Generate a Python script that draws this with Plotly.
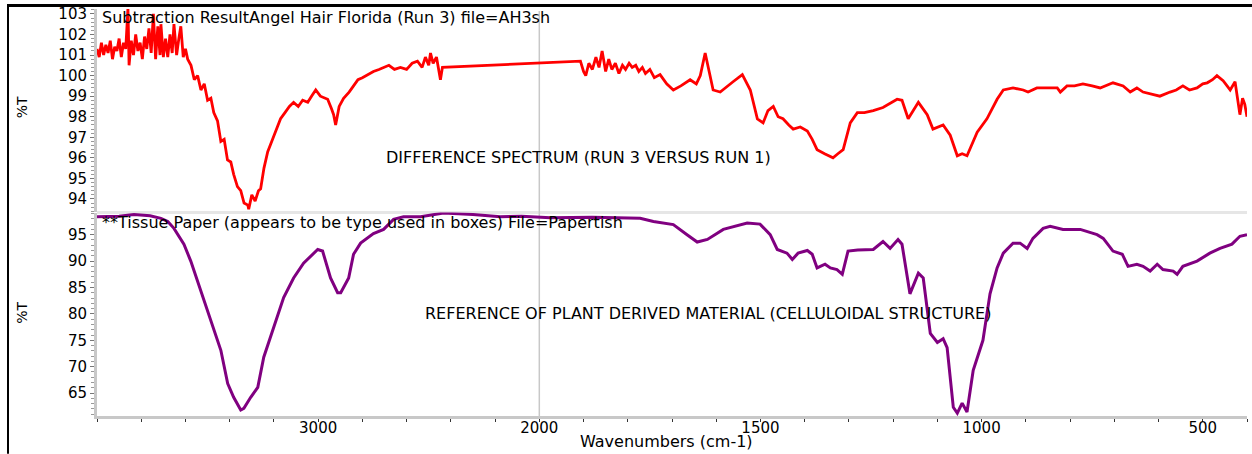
import plotly.graph_objects as go

# ---------------- data (wavenumbers in cm-1, %T) ----------------
red_wn = [4000, 3990, 3980, 3970, 3960, 3950, 3940, 3930, 3920, 3910, 3900, 3890,
          3880, 3870, 3860, 3855, 3845, 3835, 3825, 3815, 3805, 3795, 3785, 3775,
          3765, 3755, 3745, 3735, 3725, 3715, 3711, 3700, 3690, 3680, 3670, 3660,
          3652, 3640, 3630, 3621, 3610, 3600, 3590, 3575, 3560, 3545, 3530, 3515,
          3500, 3485, 3472, 3455, 3440, 3425, 3410, 3395, 3382, 3365, 3350, 3335,
          3318, 3314, 3300, 3285, 3270, 3260, 3245, 3228, 3210, 3190, 3170, 3150,
          3130, 3111, 3090, 3070, 3047, 3030, 3011, 2990, 2970, 2957, 2940, 2930,
          2921, 2905, 2885, 2860, 2840, 2820, 2800, 2777, 2750, 2725, 2704, 2680,
          2655, 2628, 2600, 2575, 2551, 2530, 2515, 2500, 2492, 2480, 2465, 2455,
          2447, 2438, 1907, 1900, 1895, 1888, 1880, 1872, 1865, 1858, 1850, 1843,
          1836, 1828, 1820, 1812, 1805, 1797, 1790, 1782, 1775, 1767, 1760, 1750,
          1740, 1727, 1712, 1697, 1680, 1659, 1645, 1636, 1625, 1616, 1607, 1591,
          1575, 1562, 1541, 1530, 1523, 1507, 1494, 1483, 1471, 1460, 1449, 1436,
          1426, 1410, 1394, 1383, 1372, 1355, 1336, 1325, 1313, 1297, 1281, 1265,
          1245, 1223, 1191, 1180, 1166, 1143, 1123, 1110, 1087, 1071, 1055, 1044,
          1033, 1010, 988, 965, 951, 929, 906, 895, 875, 850, 829, 822, 807, 790,
          771, 750, 732, 703, 680, 664, 649, 635, 619, 597, 574, 560, 545, 530,
          513, 500, 490, 478, 468, 454, 445, 438, 427, 420, 416, 410, 405, 400]
red_t = [101.3, 100.9, 101.6, 101.0, 101.5, 101.1, 101.7, 100.8, 101.4, 101.2, 101.8, 100.9,
         101.6, 101.3, 103.3, 100.5, 101.7, 101.0, 102.0, 101.2, 101.6, 100.8, 101.9, 101.3,
         102.3, 101.1, 103.0, 100.8, 102.4, 101.0, 102.5, 100.9, 101.8, 100.9, 102.0, 101.1,
         102.5, 101.0, 101.8, 102.4, 100.9, 101.3, 100.8, 100.5, 99.8, 100.0, 99.3, 99.6,
         98.8, 98.9, 98.2, 97.8, 96.8, 96.9, 95.9, 95.8, 95.2, 94.6, 94.4, 93.8,
         93.7, 93.5, 94.2, 93.9, 94.4, 94.5, 95.5, 96.3, 96.8, 97.4, 97.9, 98.2,
         98.5, 98.7, 98.5, 98.8, 98.7, 99.0, 99.3, 99.0, 98.9, 98.85, 98.4, 98.1,
         97.6, 98.5, 98.9, 99.2, 99.5, 99.8, 99.9, 100.05, 100.2, 100.3, 100.4, 100.5,
         100.3, 100.4, 100.3, 100.6, 100.7, 100.4, 100.9, 100.5, 101.1, 100.6, 100.9, 100.3,
         99.8, 100.4, 100.7, 100.2, 100.0, 100.6, 100.3, 100.9, 100.4, 101.2, 100.2, 100.8,
         100.3, 100.6, 100.1, 100.5, 100.3, 100.6, 100.4, 100.5, 100.2, 100.4, 100.1, 100.3,
         99.9, 100.05, 99.6, 99.3, 99.5, 99.8, 99.6, 100.0, 101.1, 100.2, 99.3, 99.2,
         99.5, 99.7, 100.05, 99.6, 99.3, 97.9, 97.7, 98.3, 98.5, 98.0, 97.9, 97.6,
         97.4, 97.5, 97.3, 96.9, 96.4, 96.2, 96.0, 96.2, 96.4, 97.7, 98.2, 98.2,
         98.3, 98.45, 98.85, 98.8, 97.9, 98.7, 98.1, 97.4, 97.6, 97.1, 96.1, 96.2,
         96.1, 97.25, 97.9, 98.85, 99.3, 99.4, 99.3, 99.2, 99.4, 99.4, 99.4, 99.2, 99.5, 99.5,
         99.6, 99.5, 99.4, 99.65, 99.5, 99.2, 99.4, 99.2, 99.1, 99.0, 99.2, 99.3, 99.5, 99.3,
         99.4, 99.6, 99.65, 99.8, 100.0, 99.75, 99.5, 99.3, 99.7, 98.7, 98.1, 98.9, 98.6, 98.0]

pur_wn = [4000, 3900, 3833, 3760, 3711, 3680, 3652, 3607, 3576, 3531, 3485, 3440,
          3409, 3382, 3350, 3336, 3305, 3273, 3246, 3201, 3156, 3111, 3066, 3002,
          2980, 2944, 2912, 2898, 2862, 2840, 2808, 2750, 2704, 2659, 2614, 2537,
          2433, 2300, 2176, 2080, 1975, 1880, 1772, 1742, 1697, 1666, 1643, 1620,
          1584, 1530, 1501, 1478, 1462, 1440, 1428, 1415, 1394, 1383, 1372, 1354,
          1342, 1327, 1315, 1302, 1280, 1245, 1223, 1207, 1189, 1180, 1162, 1143,
          1132, 1116, 1100, 1087, 1078, 1064, 1055, 1044, 1033, 1019, 997, 981,
          965, 951, 929, 913, 897, 884, 861, 845, 816, 777, 739, 725,
          703, 682, 669, 649, 635, 619, 603, 590, 567, 558, 545, 513,
          484, 461, 434, 416, 400]
pur_t = [98.4, 98.5, 98.8, 98.6, 98.1, 97.5, 96.2, 93.2, 90.0, 84.3, 78.7, 73.1,
         66.8, 64.2, 61.8, 62.1, 64.2, 66.1, 71.8, 77.4, 83.1, 86.8, 89.6, 92.2,
         91.9, 86.8, 84.0, 84.0, 86.8, 91.3, 93.4, 95.2, 96.0, 97.9, 98.4, 98.4,
         99.1, 98.8, 98.4, 98.5, 98.2, 98.3, 98.1, 97.5, 96.9, 95.0, 93.6, 94.1,
         96.0, 97.2, 97.0, 95.0, 92.2, 91.5, 90.3, 91.5, 92.0, 91.3, 88.7, 89.4,
         88.7, 88.4, 87.5, 91.9, 92.1, 92.2, 93.7, 92.4, 94.1, 93.2, 83.8, 87.7,
         86.8, 76.3, 74.6, 75.3, 73.6, 62.3, 61.2, 63.1, 61.4, 69.3, 75.0, 83.8,
         88.7, 91.5, 93.4, 93.4, 92.4, 94.3, 96.2, 96.6, 96.0, 96.0, 95.0, 94.3,
         91.9, 91.3, 89.0, 89.4, 89.0, 88.1, 89.4, 88.4, 88.1, 87.5, 89.0, 90.0,
         91.5, 92.4, 93.2, 94.7, 95.0]

x_tick_labels = [3000, 2000, 1500, 1000, 500]
top_y_ticks = [94, 95, 96, 97, 98, 99, 100, 101, 102, 103]
bottom_y_ticks = [65, 70, 75, 80, 85, 90, 95]


def disp(wn):
    """Display coordinate: region above 2000 cm-1 is compressed 2x (common FTIR layout)."""
    return wn if wn <= 2000 else 2000 + (wn - 2000) / 2.0


FONT = "DejaVu Sans"
L, R, T, B = 97, 5, 6, 38
W, H = 1252, 454
PW, PH = W - L - R, H - T - B


def px(xpix):
    return (xpix - L) / PW


def py(ypix):
    return (H - B - ypix) / PH


fig = go.Figure()
fig.add_trace(go.Scatter(x=[disp(w) for w in red_wn], y=red_t, mode="lines",
                         line=dict(color="#ff0000", width=2.8), xaxis="x", yaxis="y",
                         showlegend=False, hoverinfo="skip"))
fig.add_trace(go.Scatter(x=[disp(w) for w in pur_wn], y=pur_t, mode="lines",
                         line=dict(color="#800080", width=3), xaxis="x2", yaxis="y2",
                         showlegend=False, hoverinfo="skip"))

xr = [disp(4000), disp(400)]
common_y = dict(showgrid=False, zeroline=False, showline=True, linecolor="#c8c8c8",
                linewidth=3, ticks="outside", ticklen=4, tickcolor="#777777",
                tickfont=dict(family=FONT, size=15, color="black"))

fig.update_layout(
    width=W, height=H,
    margin=dict(l=L, r=R, t=T, b=B),
    paper_bgcolor="white", plot_bgcolor="white",
    xaxis=dict(domain=[0, 1], anchor="y", range=xr, showgrid=False, zeroline=False,
               showticklabels=False, showline=False, ticks=""),
    xaxis2=dict(domain=[0, 1], anchor="y2", range=xr, matches="x", showgrid=False,
                zeroline=False, showline=True, linecolor="#c8c8c8", linewidth=3,
                tickmode="array", tickvals=[disp(v) for v in x_tick_labels],
                ticktext=[str(v) for v in x_tick_labels], ticks="outside", ticklen=3,
                ticklabelstandoff=-7,
                tickcolor="#333333", tickfont=dict(family=FONT, size=15, color="black"),
                minor=dict(dtick=100, tick0=0, ticks="outside", ticklen=3, tickcolor="#333333")),
    yaxis=dict(domain=[py(210), 1], anchor="x", range=[93.39, 103.24],
               tickmode="array", tickvals=top_y_ticks,
               minor=dict(dtick=0.2, tick0=0, ticks="outside", ticklen=3, tickcolor="#999999"),
               **common_y),
    yaxis2=dict(domain=[0, py(211)], anchor="x2", range=[60.66, 99.2],
                tickmode="array", tickvals=bottom_y_ticks,
                minor=dict(dtick=1, tick0=0, ticks="outside", ticklen=3, tickcolor="#999999"),
                **common_y),
)

txt = dict(family=FONT, size=16, color="black")
fig.add_annotation(text="Subtraction ResultAngel Hair Florida (Run 3) file=AH3sh",
                   xref="paper", yref="paper", x=px(100), y=py(15),
                   xanchor="left", yanchor="middle", showarrow=False, font=txt)
fig.add_annotation(text="DIFFERENCE SPECTRUM (RUN 3 VERSUS RUN 1)",
                   xref="paper", yref="paper", x=px(578), y=py(156),
                   xanchor="center", yanchor="middle", showarrow=False, font=txt)
fig.add_annotation(text="**Tissue Paper (appears to be type used in boxes) File=Papertish",
                   xref="paper", yref="paper", x=px(100), y=py(221),
                   xanchor="left", yanchor="middle", showarrow=False, font=txt)
fig.add_annotation(text="REFERENCE OF PLANT DERIVED MATERIAL (CELLULOIDAL STRUCTURE)",
                   xref="paper", yref="paper", x=px(708), y=py(313),
                   xanchor="center", yanchor="middle", showarrow=False, font=txt)
fig.add_annotation(text="Wavenumbers (cm-1)",
                   xref="paper", yref="paper", x=px(666), y=py(442),
                   xanchor="center", yanchor="middle", showarrow=False, font=txt)
for yy in [py(105), py(312)]:
    fig.add_annotation(text="%T", xref="paper", yref="paper", x=px(22), y=yy,
                       xanchor="center", yanchor="middle", textangle=-90, showarrow=False,
                       font=dict(family=FONT, size=14, color="black"))

# separator between the two panels
fig.add_shape(type="line", xref="paper", yref="paper", x0=0, x1=1,
              y0=py(211), y1=py(211), line=dict(color="#e6e6e6", width=3), layer="below")
# vertical marker at 2000 cm-1 (scale change)
fig.add_shape(type="line", xref="x", yref="paper", x0=disp(2000), x1=disp(2000),
              y0=0, y1=py(8), line=dict(color="#c8c8c8", width=1.5), layer="below")
# black outer frame (top and left)
fig.add_shape(type="line", xref="paper", yref="paper", x0=px(7), x1=px(1252),
              y0=py(2.5), y1=py(2.5), line=dict(color="black", width=3))
fig.add_shape(type="line", xref="paper", yref="paper", x0=px(8), x1=px(8),
              y0=py(1), y1=py(454), line=dict(color="black", width=2))

fig.write_html("out.html", config={"displayModeBar": False},
               post_script="document.body.style.margin='0';")
